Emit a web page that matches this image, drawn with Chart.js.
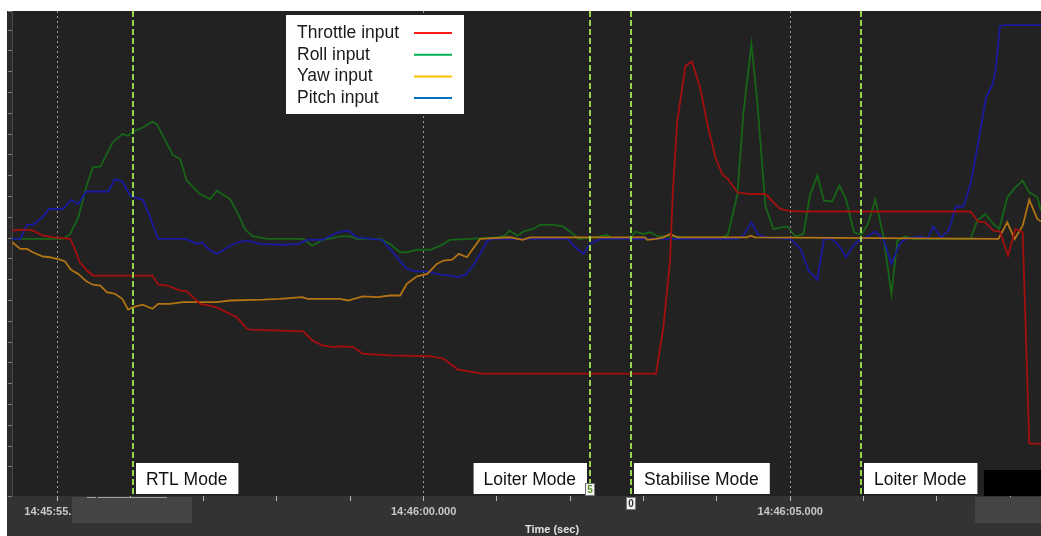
<!DOCTYPE html>
<html lang="en">
<head>
    <meta charset="UTF-8">
    <title>RC inputs - mode changes</title>
    <script src="https://cdn.jsdelivr.net/npm/chart.js"></script>
    <style>
        body {
            margin: 0;
            background: #fff;
        }
        canvas {
            display: block;
        }
    </style>
</head>
<body>

<canvas id="rcChart" width="1041" height="536"></canvas>

<script>
    // time axis: seconds after 14:45:55.000
    const timeTicks = [0, 5, 10];
    const timeLabels = ['14:45:55.000', '14:46:00.000', '14:46:05.000'];

    const seriesNames = ['Throttle input', 'Roll input', 'Yaw input', 'Pitch input'];

    const throttleT = [-0.61, -0.53, -0.37, -0.33, -0.19, -0.05, 0.18, 0.25, 0.31, 0.41, 0.49, 1.30, 1.38, 1.50, 1.68, 1.77, 1.95, 2.13, 2.22, 2.45, 2.59, 2.63, 3.36, 3.48, 3.62, 3.77, 3.86, 4.04, 4.17, 4.54, 5.09, 5.27, 5.47, 5.81, 8.17, 8.27, 8.36, 8.40, 8.46, 8.57, 8.66, 8.77, 8.88, 8.98, 9.07, 9.15, 9.28, 9.45, 9.66, 9.86, 9.97, 10.14, 12.46, 12.56, 12.66, 12.77, 12.86, 12.97, 13.07, 13.17, 13.26, 13.42];
    const throttleV = [1509, 1510, 1510, 1509, 1503, 1501, 1499, 1485, 1471, 1461, 1455, 1455, 1444, 1443, 1437, 1436, 1421, 1418, 1415, 1405, 1391, 1390, 1388, 1377, 1371, 1369, 1370, 1369, 1361, 1359, 1358, 1355, 1342, 1337, 1337, 1393, 1473, 1557, 1641, 1707, 1712, 1681, 1633, 1597, 1577, 1571, 1555, 1553, 1553, 1535, 1533, 1532, 1532, 1520, 1519, 1509, 1508, 1479, 1511, 1507, 1253, 1253];

    const rollT = [-0.61, -0.19, 0.08, 0.18, 0.29, 0.41, 0.49, 0.59, 0.76, 0.89, 0.97, 1.06, 1.17, 1.30, 1.36, 1.58, 1.68, 1.77, 1.86, 1.95, 2.09, 2.18, 2.36, 2.47, 2.56, 2.67, 2.77, 2.86, 3.36, 3.48, 3.63, 3.86, 4.00, 4.09, 4.41, 4.54, 4.68, 4.77, 4.91, 5.09, 5.23, 5.36, 5.63, 6.00, 6.11, 6.17, 6.28, 6.36, 6.49, 6.59, 6.77, 6.90, 7.04, 7.11, 7.41, 7.49, 7.59, 7.82, 7.89, 7.99, 8.09, 8.20, 8.36, 8.61, 9.07, 9.15, 9.28, 9.36, 9.47, 9.55, 9.66, 9.77, 9.96, 10.07, 10.18, 10.27, 10.37, 10.46, 10.57, 10.67, 10.76, 10.87, 10.97, 11.06, 11.16, 11.27, 11.38, 11.46, 11.57, 11.68, 12.46, 12.55, 12.66, 12.77, 12.85, 12.96, 13.07, 13.17, 13.26, 13.37, 13.42];
    const rollV = [1499, 1499, 1499, 1505, 1525, 1565, 1585, 1586, 1615, 1625, 1623, 1629, 1633, 1640, 1637, 1600, 1595, 1569, 1561, 1553, 1547, 1557, 1547, 1529, 1511, 1502, 1501, 1499, 1499, 1491, 1498, 1502, 1502, 1499, 1499, 1493, 1483, 1483, 1486, 1486, 1491, 1498, 1499, 1501, 1503, 1509, 1503, 1508, 1511, 1516, 1516, 1514, 1505, 1499, 1502, 1504, 1499, 1501, 1508, 1505, 1507, 1502, 1502, 1501, 1501, 1504, 1553, 1649, 1733, 1665, 1539, 1511, 1514, 1502, 1505, 1552, 1575, 1545, 1544, 1563, 1547, 1507, 1504, 1517, 1546, 1503, 1433, 1497, 1502, 1499, 1499, 1521, 1529, 1517, 1511, 1549, 1561, 1569, 1555, 1549, 1533];

    const yawT = [-0.61, -0.50, -0.41, -0.33, -0.20, -0.10, 0.04, 0.11, 0.19, 0.29, 0.40, 0.49, 0.59, 0.68, 0.79, 0.89, 0.97, 1.04, 1.17, 1.30, 1.38, 1.54, 1.72, 2.18, 2.36, 2.81, 3.04, 3.34, 3.42, 3.86, 3.97, 4.17, 4.37, 4.45, 4.54, 4.68, 4.77, 4.91, 5.05, 5.18, 5.27, 5.39, 5.48, 5.59, 5.77, 6.18, 6.35, 6.45, 8.02, 8.05, 8.17, 8.27, 8.36, 8.46, 9.41, 9.46, 9.52, 12.84, 12.96, 13.06, 13.17, 13.26, 13.37, 13.42];
    const yawV = [1495, 1487, 1487, 1483, 1478, 1477, 1474, 1472, 1462, 1457, 1448, 1444, 1443, 1435, 1433, 1427, 1414, 1417, 1420, 1415, 1421, 1421, 1423, 1423, 1425, 1426, 1427, 1429, 1427, 1427, 1425, 1430, 1429, 1430, 1431, 1431, 1445, 1454, 1457, 1469, 1473, 1474, 1481, 1477, 1499, 1501, 1498, 1501, 1501, 1498, 1499, 1501, 1505, 1501, 1501, 1503, 1501, 1499, 1519, 1499, 1515, 1546, 1523, 1520];

    const pitchT = [-0.61, -0.50, -0.41, -0.33, -0.20, -0.11, 0.08, 0.19, 0.29, 0.40, 0.70, 0.79, 0.89, 1.00, 1.06, 1.17, 1.27, 1.38, 1.75, 1.91, 1.98, 2.06, 2.18, 2.33, 2.46, 2.59, 2.77, 3.08, 3.29, 3.42, 3.62, 3.83, 3.97, 4.09, 4.43, 4.54, 4.77, 4.88, 5.05, 5.23, 5.36, 5.47, 5.57, 5.68, 5.87, 5.95, 6.97, 7.07, 7.18, 7.27, 7.41, 9.28, 9.36, 9.47, 9.56, 9.66, 10.00, 10.14, 10.25, 10.37, 10.46, 10.57, 10.68, 10.76, 10.86, 10.95, 11.06, 11.16, 11.27, 11.38, 11.49, 11.57, 11.77, 11.87, 11.95, 12.06, 12.16, 12.26, 12.36, 12.46, 12.56, 12.67, 12.76, 12.80, 12.86, 12.93, 13.42];
    const pitchV = [1499, 1499, 1516, 1516, 1525, 1535, 1535, 1546, 1541, 1556, 1556, 1571, 1568, 1551, 1549, 1546, 1525, 1499, 1499, 1493, 1495, 1487, 1481, 1489, 1495, 1497, 1493, 1492, 1493, 1498, 1498, 1507, 1509, 1501, 1498, 1487, 1463, 1460, 1460, 1456, 1455, 1453, 1456, 1467, 1497, 1499, 1499, 1489, 1481, 1493, 1499, 1499, 1503, 1519, 1505, 1501, 1499, 1487, 1461, 1450, 1499, 1499, 1489, 1477, 1491, 1498, 1502, 1508, 1499, 1469, 1493, 1499, 1502, 1499, 1514, 1501, 1509, 1538, 1538, 1565, 1613, 1669, 1685, 1701, 1755, 1756, 1756];

    // flight mode changes
    const modeTimes = [1.04, 7.27, 7.83, 10.97];
    const modeNames = ['RTL Mode', 'Loiter Mode', 'Stabilise Mode', 'Loiter Mode'];
    const modeMarks = ['', '5', '0', ''];

    const lineColors = ['#a30f0f', '#176517', '#b37413', '#1a1aa0'];
    const legendColors = ['#ff1a1a', '#00b050', '#ffc000', '#0070c0'];

    function pts(ts, vs) {
        return ts.map((t, i) => ({ x: t, y: vs[i] }));
    }

    const labelFont = '17.5px "Liberation Sans", Arial, sans-serif';

    const extras = {
        id: 'extras',
        beforeDraw(chart) {
            const c = chart.ctx, a = chart.chartArea;
            c.save();
            c.fillStyle = '#ffffff';
            c.fillRect(0, 0, chart.width, chart.height);
            c.fillStyle = '#2b2b2b';
            c.fillRect(7, a.top, a.left - 7, a.bottom - a.top);
            c.fillStyle = '#222222';
            c.fillRect(a.left, a.top, a.right - a.left, a.bottom - a.top);
            c.fillStyle = '#333333';
            c.fillRect(7, a.bottom, chart.width - 7, chart.height - a.bottom);
            c.restore();
        },
        afterDatasetsDraw(chart) {
            const c = chart.ctx, a = chart.chartArea, xs = chart.scales.x;
            c.save();

            // mode change lines
            c.strokeStyle = '#96d250';
            c.lineWidth = 2;
            c.setLineDash([6, 3]);
            modeTimes.forEach(t => {
                const px = Math.round(xs.getPixelForValue(t));
                c.beginPath();
                c.moveTo(px, a.top);
                c.lineTo(px, a.bottom);
                c.stroke();
            });
            c.setLineDash([]);

            // black strip bottom right
            c.fillStyle = '#000';
            c.fillRect(984, a.bottom - 26, a.right - 984, 26);

            // mode labels
            c.font = labelFont;
            c.textBaseline = 'middle';
            modeTimes.forEach((t, i) => {
                const px = Math.round(xs.getPixelForValue(t));
                const w = c.measureText(modeNames[i]).width + 21;
                let bx = px + 3;
                if (i < modeTimes.length - 1 && bx + w > xs.getPixelForValue(modeTimes[i + 1])) {
                    bx = px - 3 - w;
                }
                c.fillStyle = '#fff';
                c.fillRect(bx, a.bottom - 33, w, 31);
                c.fillStyle = '#111';
                c.fillText(modeNames[i], bx + 10, a.bottom - 16);
            });

            // legend
            c.fillStyle = '#fff';
            c.fillRect(286, 15, 178, 99);
            seriesNames.forEach((n, i) => {
                const y = 33 + i * 21.7;
                c.fillStyle = '#1a1a1a';
                c.fillText(n, 297, y);
                c.strokeStyle = legendColors[i];
                c.lineWidth = 2;
                c.beginPath();
                c.moveTo(414, y);
                c.lineTo(452, y);
                c.stroke();
            });
            c.restore();
        },
        afterDraw(chart) {
            const c = chart.ctx, a = chart.chartArea, xs = chart.scales.x;
            c.save();
            // scroll/overview boxes on the time axis
            c.fillStyle = '#464343';
            c.fillRect(72, a.bottom + 1, 120, 26);
            c.fillRect(975, a.bottom + 1, a.right - 975, 26);
            c.strokeStyle = '#a0a0a0';
            c.lineWidth = 1;
            c.beginPath();
            c.moveTo(87, a.bottom + 1.5);
            c.lineTo(96, a.bottom + 1.5);
            c.moveTo(98, a.bottom + 1.5);
            c.lineTo(167, a.bottom + 1.5);
            c.stroke();

            // small marks on the mode lines
            c.font = 'bold 10px "Liberation Sans", Arial, sans-serif';
            c.textAlign = 'center';
            c.textBaseline = 'middle';
            modeMarks.forEach((m, i) => {
                if (!m) return;
                const px = Math.round(xs.getPixelForValue(modeTimes[i]));
                const y = i === 1 ? a.bottom - 12 : a.bottom + 2;
                c.fillStyle = '#f4f4f4';
                c.fillRect(px - 4, y, 8, 11);
                c.strokeStyle = '#777';
                c.strokeRect(px - 4.5, y - 0.5, 9, 12);
                c.fillStyle = i === 1 ? '#5a9a2a' : '#333';
                c.fillText(m, px, y + 6);
            });

            // axis title
            c.font = 'bold 11px "Liberation Sans", Arial, sans-serif';
            c.fillStyle = '#e2e2e2';
            c.fillText('Time (sec)', 552, 530);
            c.restore();
        }
    };

    new Chart(document.getElementById('rcChart'), {
        type: 'line',
        data: {
            datasets: [
                { label: seriesNames[0], data: pts(throttleT, throttleV), borderColor: lineColors[0], order: 0 },
                { label: seriesNames[1], data: pts(rollT, rollV), borderColor: lineColors[1], order: 3 },
                { label: seriesNames[2], data: pts(yawT, yawV), borderColor: lineColors[2], order: 1 },
                { label: seriesNames[3], data: pts(pitchT, pitchV), borderColor: lineColors[3], order: 2 }
            ]
        },
        options: {
            responsive: false,
            animation: false,
            layout: { padding: { top: 11, left: 0, right: 0, bottom: 0 } },
            elements: {
                point: { radius: 0 },
                line: { borderWidth: 1.8, tension: 0 }
            },
            plugins: {
                legend: { display: false },
                tooltip: { enabled: false }
            },
            scales: {
                x: {
                    type: 'linear',
                    min: -0.614,
                    max: 13.42,
                    afterFit(s) { s.height = 40; },
                    border: { display: false, dash: [2, 3] },
                    grid: {
                        color: c => (c.tick && Math.round(c.tick.value) % 5 === 0) ? '#9a9a9a' : 'rgba(0,0,0,0)',
                        tickColor: '#b8b8b8',
                        tickBorderDash: [10, 0],
                        tickLength: 5,
                        lineWidth: 1
                    },
                    ticks: {
                        stepSize: 1,
                        includeBounds: false,
                        autoSkip: false,
                        maxRotation: 0,
                        padding: 4,
                        color: '#c8c8c8',
                        font: { family: '"Liberation Sans", Arial, sans-serif', size: 11, weight: 'bold' },
                        callback: v => {
                            const i = timeTicks.indexOf(Math.round(v * 1000) / 1000);
                            return i >= 0 ? timeLabels[i] : '';
                        }
                    }
                },
                y: {
                    min: 1190,
                    max: 1773,
                    afterFit(s) { s.width = 12; },
                    border: { display: true, color: '#4a4a4a' },
                    grid: {
                        drawOnChartArea: false,
                        tickColor: '#7a7a7a',
                        tickLength: 4
                    },
                    ticks: {
                        stepSize: 25,
                        display: false
                    }
                }
            }
        },
        plugins: [extras]
    });
</script>

</body>
</html>
